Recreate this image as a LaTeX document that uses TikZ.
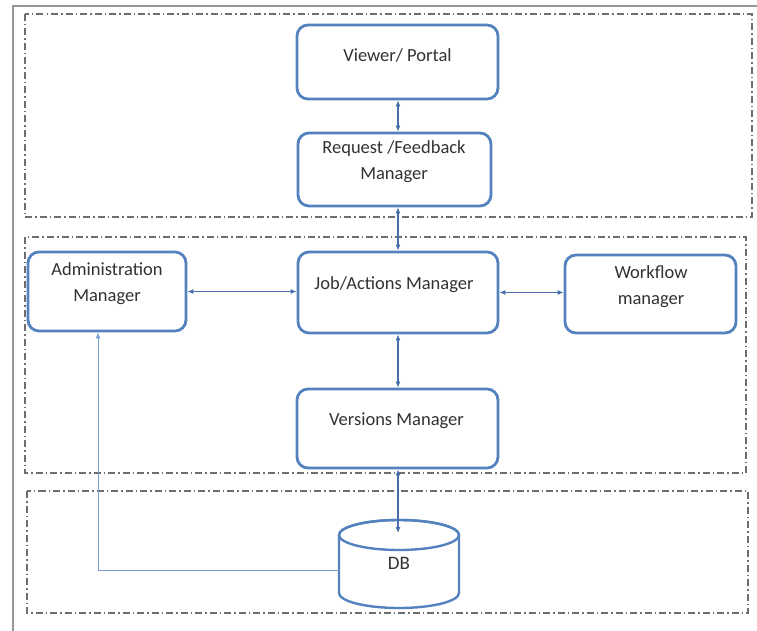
\documentclass[tikz,border=0pt]{standalone}
\usepackage{fontspec}
\setmainfont{Carlito}
\usetikzlibrary{arrows.meta,calc}
\definecolor{boxblue}{RGB}{84,130,190}
\definecolor{arrblue}{RGB}{70,110,170}
\definecolor{lightarr}{RGB}{120,160,210}
\definecolor{txt}{RGB}{50,50,50}
\definecolor{frm}{RGB}{150,150,150}
\definecolor{dsh}{RGB}{110,110,110}
\tikzset{
 mgr/.style={draw=boxblue, line width=2.8pt, rounded corners=11pt, fill=white, inner sep=0pt},
 lbl/.style={text=txt, font=\fontsize{18.5}{26}\selectfont, align=center, inner sep=0pt},
 zone/.style={draw=dsh, line width=1.2pt, dash pattern=on 7pt off 3pt on 1.5pt off 3pt},
 link/.style={draw=arrblue, line width=1.1pt, {Latex[length=6pt,width=5pt]}-{Latex[length=6pt,width=5pt]}},
 onelink/.style={draw=lightarr, line width=1pt, -{Latex[length=6pt,width=5pt]}},
 frameline/.style={draw=frm, line width=2.5pt},
 dbline/.style={draw=boxblue, line width=2.4pt},
}
\begin{document}
\begin{tikzpicture}[x=1pt,y=-1pt]
\useasboundingbox (0,0) rectangle (757,631);
% outer frame
\draw[frameline] (13,631) -- (13,6) -- (757,6);
% zones
\draw[zone] (25,14) rectangle (752,217);
\draw[zone] (25,237) rectangle (746,473);
\draw[zone] (27,491) rectangle (748,613);
% boxes
\node[mgr, minimum width=201pt, minimum height=74pt] (vp) at (397.5,62) {};
\node[mgr, minimum width=193pt, minimum height=73pt] (rf) at (394.5,169.5) {};
\node[mgr, minimum width=158pt, minimum height=79pt] (admin) at (107,291.5) {};
\node[mgr, minimum width=200pt, minimum height=81pt] (job) at (398,292.5) {};
\node[mgr, minimum width=171pt, minimum height=78pt] (wf) at (650.5,294) {};
\node[mgr, minimum width=201pt, minimum height=79pt] (ver) at (397.5,428.5) {};
% labels
\node[lbl] (vpt) at (397.5,55) {Viewer/ Portal};
\node[lbl] (rft) at (394,162) {Request /Feedback\\Manager};
\node[lbl] (admint) at (107,284) {Administration\\Manager};
\node[lbl] (jobt) at (394,285) {Job/Actions Manager};
\node[lbl] (wft) at (651,287) {Workflow\\manager};
\node[lbl] (vert) at (396.5,421) {Versions Manager};
% DB cylinder
\node[minimum width=120pt, minimum height=88pt, inner sep=0pt] (db) at (399,564) {};
\draw[dbline, fill=white] (339,535) -- (339,593)
  arc[start angle=180, end angle=360, x radius=60pt, y radius=15pt] -- (459,535)
  arc[start angle=0, end angle=180, x radius=60pt, y radius=15pt] -- cycle;
\draw[dbline] (399,535) ellipse[x radius=60pt, y radius=15pt];
\node[lbl, font=\fontsize{19}{22}\selectfont] (dbt) at (399,563) {DB};
\coordinate (dbtop) at (398,533);
\coordinate (dbleft) at (339,570);
% connectors
\draw[link] (vp.south -| job) -- (rf.north -| job);
\draw[link] (rf.south -| job) -- (job.north);
\draw[link] (admin.east) -- (admin.east -| job.west);
\draw[link] (job.east) -- (job.east -| wf.west);
\draw[link] (job.south) -- (ver.north -| job);
\draw[link] (ver.south -| job) -- (dbtop);
\draw[onelink] (dbleft) -| ([xshift=-9pt]admin.south);
\end{tikzpicture}
\end{document}
